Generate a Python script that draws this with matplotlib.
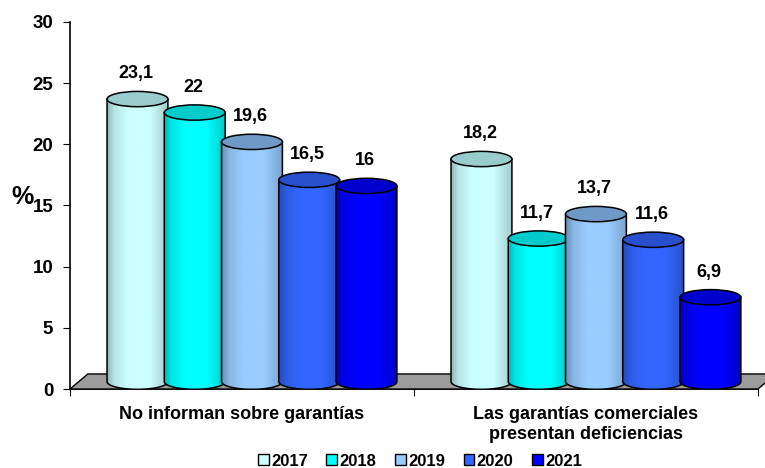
import numpy as np
import matplotlib.pyplot as plt
from matplotlib.patches import Ellipse, Polygon, Patch
from matplotlib.colors import to_rgb

plt.rcParams['font.family'] = ['Liberation Sans', 'DejaVu Sans']
plt.rcParams['font.weight'] = 'bold'

categories = ['No informan sobre garantías',
              'Las garantías comerciales\npresentan deficiencias']
years = ['2017', '2018', '2019', '2020', '2021']
values = [
    [23.1, 22, 19.6, 16.5, 16],     # No informan sobre garantías
    [18.2, 11.7, 13.7, 11.6, 6.9],  # Las garantías comerciales presentan deficiencias
]
labels = [
    ['23,1', '22', '19,6', '16,5', '16'],
    ['18,2', '11,7', '13,7', '11,6', '6,9'],
]
side_colors = ['#CCFFFF', '#00FFFF', '#99CCFF', '#3366FF', '#0000FF']
top_colors = ['#99CCCC', '#00CCCC', '#6F9AC8', '#2850CC', '#0000CC']

# 3d look: depth offset of the bars and the floor
depth_dx, depth_dy = 0.029, 0.6
floor_dx, floor_dy = 0.052, 1.23
bar_w = 0.177
step = 0.1664
ell_h = 1.25

fig = plt.figure(figsize=(7.65, 4.68), dpi=100)
ax = fig.add_axes([0.0915, 0.1688, 0.8993, 0.7842])


def shade(color, n=64):
    base = np.array(to_rgb(color))
    t = np.linspace(0, 1, n)
    f = np.interp(t, [0, 0.12, 0.35, 0.7, 1.0], [0.72, 0.9, 1.0, 1.0, 0.8])
    return (f[:, None] * base[None, :])[None, :, :].clip(0, 1)


def cylinder(x, value, side, top, z):
    yb = depth_dy
    yt = value + depth_dy
    th = np.linspace(np.pi, 2 * np.pi, 60)
    pts = [(x - bar_w / 2, yt)]
    pts += list(zip(x + bar_w / 2 * np.cos(th), yb + ell_h / 2 * np.sin(th)))
    pts += [(x + bar_w / 2, yt)]
    body = Polygon(pts, closed=True, facecolor='none', edgecolor='none', zorder=z)
    ax.add_patch(body)
    im = ax.imshow(shade(side), extent=[x - bar_w / 2, x + bar_w / 2, yb - ell_h, yt],
                   aspect='auto', zorder=z, interpolation='bilinear')
    im.set_clip_path(body)
    ax.add_patch(Polygon(pts, closed=True, facecolor='none', edgecolor='black',
                         lw=1.1, zorder=z + 0.1))
    ax.add_patch(Ellipse((x, yt), bar_w, ell_h, facecolor=top, edgecolor='black',
                         lw=1.1, zorder=z + 0.2))


# floor
floor = Polygon([(0, 0), (2, 0), (2 + floor_dx, floor_dy), (floor_dx, floor_dy)],
                closed=True, facecolor='#9C9C9C', edgecolor='black', lw=1,
                zorder=1, clip_on=False)
ax.add_patch(floor)

z = 2
for g in range(len(categories)):
    for i in range(len(years)):
        x = g + 0.5 + depth_dx + (i - 2) * step
        v = values[g][i]
        cylinder(x, v, side_colors[i], top_colors[i], z)
        ax.text(x - 0.004, v + depth_dy + 2.05, labels[g][i], ha='center', va='center',
                fontsize=13, fontweight='bold', zorder=50)
        z += 1

ax.set_xlim(0, 2)
ax.set_ylim(0, 30)
ax.set_yticks(range(0, 31, 5))
ax.set_xticks([0, 1, 2])
ax.set_xticklabels([])
ax.tick_params(axis='y', labelsize=13.5, length=5, pad=7, direction='out')
ax.tick_params(axis='x', length=5, direction='out')
for s in ['top', 'right']:
    ax.spines[s].set_visible(False)
for s in ['left', 'bottom']:
    ax.spines[s].set_linewidth(1.2)
    ax.spines[s].set_zorder(0.5)
ax.patch.set_visible(False)

for g, name in enumerate(categories):
    ax.text(g + 0.5, -1.4, name, ha='center', va='top', fontsize=13,
            fontweight='bold', linespacing=1.2)

fig.text(22 / 765, 1 - 197 / 468, '%', ha='center', va='center',
         fontsize=18, fontweight='bold')

handles = [Patch(facecolor=c, edgecolor='black', lw=1, label=y)
           for c, y in zip(side_colors, years)]
fig.legend(handles=handles, loc='center', bbox_to_anchor=(420 / 765, 1 - 461 / 468),
           ncol=5, frameon=False, fontsize=12, handlelength=0.65, handleheight=0.65,
           handletextpad=0.15, columnspacing=1.1, borderpad=0)

fig.savefig('out.png', dpi=100)
